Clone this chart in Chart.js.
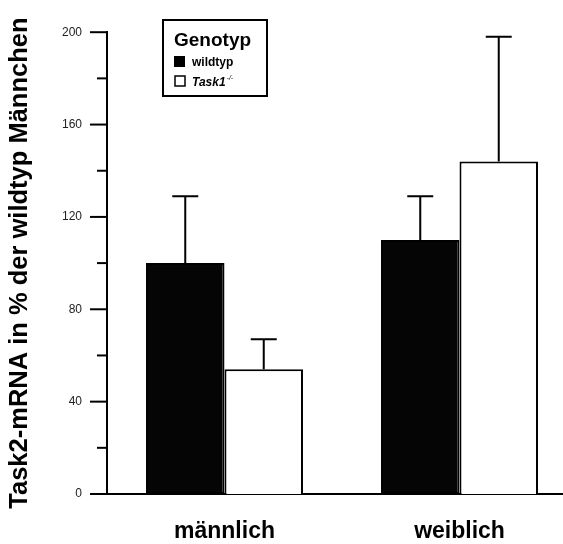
<!DOCTYPE html>
<html>
<head>
<meta charset="utf-8">
<script src="https://cdn.jsdelivr.net/npm/chart.js@4.4.1/dist/chart.umd.min.js"></script>
<style>
  html, body { margin: 0; padding: 0; background: #fff; overflow: hidden; }
  canvas { display: block; }
</style>
</head>
<body>
<canvas id="myChart" width="600" height="544"></canvas>
<script>
const ctx = document.getElementById('myChart');

const categories = ['männlich', 'weiblich'];
const wildtyp = [100, 110];
const wildtypSem = [29, 19];
const task1 = [54, 144];
const task1Sem = [13, 54];
const yTicks = [0, 40, 80, 120, 160, 200];

const FONT = "'Liberation Sans', Arial, sans-serif";

// upward error bars only
const errorBars = {
  id: 'errorBars',
  afterDatasetsDraw(chart) {
    const c = chart.ctx;
    const y = chart.scales.y;
    c.save();
    c.strokeStyle = '#000';
    c.lineWidth = 2;
    chart.data.datasets.forEach((ds, i) => {
      const meta = chart.getDatasetMeta(i);
      meta.data.forEach((bar, j) => {
        const top = y.getPixelForValue(ds.data[j] + ds.sem[j]);
        c.beginPath();
        c.moveTo(bar.x, bar.y);
        c.lineTo(bar.x, top);
        c.moveTo(bar.x - 13, top);
        c.lineTo(bar.x + 13, top);
        c.stroke();
      });
    });
    c.restore();
  }
};

// major + minor ticks on the y axis
const yTickMarks = {
  id: 'yTickMarks',
  afterDraw(chart) {
    const c = chart.ctx;
    const y = chart.scales.y;
    const left = chart.chartArea.left;
    c.save();
    c.strokeStyle = '#000';
    c.lineWidth = 2;
    for (let v = 0; v <= 200; v += 20) {
      const py = y.getPixelForValue(v);
      const len = yTicks.includes(v) ? 17 : 10;
      c.beginPath();
      c.moveTo(left - len, py);
      c.lineTo(left, py);
      c.stroke();
    }
    c.restore();
  }
};

// boxed legend with title
const boxLegend = {
  id: 'boxLegend',
  afterDraw(chart) {
    const c = chart.ctx;
    c.save();
    c.strokeStyle = '#000';
    c.lineWidth = 2;
    c.strokeRect(163, 20, 104, 76);
    c.fillStyle = '#000';
    c.textBaseline = 'alphabetic';
    c.font = 'bold 19px ' + FONT;
    c.fillText('Genotyp', 174, 46);
    c.fillRect(174, 56, 11, 11);
    c.lineWidth = 1.5;
    c.strokeRect(175, 76, 10, 10);
    c.font = 'bold 12px ' + FONT;
    c.fillText(chart.data.datasets[0].label, 192, 66);
    c.font = 'italic bold 12px ' + FONT;
    c.fillText(chart.data.datasets[1].label, 192, 86);
    const w = c.measureText(chart.data.datasets[1].label).width;
    c.font = 'italic 7px ' + FONT;
    c.fillText('-/-', 193 + w, 80);
    c.restore();
  }
};

const data = {
  labels: categories,
  datasets: [
    {
      label: 'wildtyp',
      data: wildtyp,
      sem: wildtypSem,
      backgroundColor: '#050505',
      borderColor: '#000',
      borderWidth: 2,
      borderSkipped: false
    },
    {
      label: 'Task1',
      data: task1,
      sem: task1Sem,
      backgroundColor: '#fff',
      borderColor: '#000',
      borderWidth: 2,
      borderSkipped: 'bottom'
    }
  ]
};

const config = {
  type: 'bar',
  data: data,
  plugins: [errorBars, yTickMarks, boxLegend],
  options: {
    responsive: false,
    animation: false,
    layout: { padding: { top: 25, right: 23, left: 0, bottom: 0 } },
    datasets: {
      bar: { categoryPercentage: 0.668, barPercentage: 1 }
    },
    scales: {
      x: {
        grid: { display: false, drawTicks: false },
        border: { display: true, color: '#000', width: 2 },
        ticks: {
          color: '#000',
          padding: 24,
          font: { family: FONT, size: 23, weight: 'bold' }
        },
        afterFit(s) { s.height = 50; }
      },
      y: {
        min: 0,
        max: 200,
        grid: { display: false, drawTicks: false },
        border: { display: true, color: '#000', width: 2 },
        afterBuildTicks(s) { s.ticks = yTicks.map(v => ({ value: v })); },
        ticks: {
          color: '#222',
          padding: 25,
          font: { family: FONT, size: 12 }
        },
        title: {
          display: true,
          text: 'Task2-mRNA in % der wildtyp Männchen',
          color: '#000',
          padding: { top: 5, bottom: 0 },
          font: { family: FONT, size: 25.5, weight: 'bold' }
        },
        afterFit(s) { s.width = 107; }
      }
    },
    plugins: {
      legend: { display: false },
      tooltip: { enabled: false }
    }
  }
};

const myChart = new Chart(ctx, config);
</script>
</body>
</html>
